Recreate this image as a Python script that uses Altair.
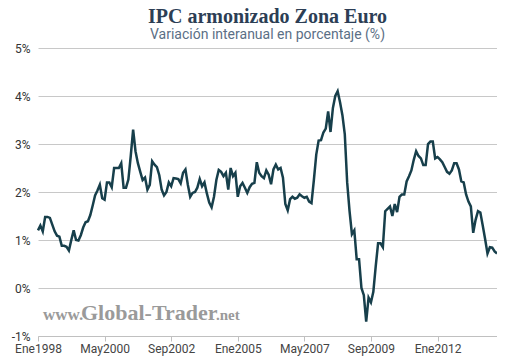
import altair as alt
import pandas as pd

title_text = "IPC armonizado Zona Euro"
subtitle_text = "Variación interanual en porcentaje (%)"
watermark_parts = ["www.", "Global-Trader", ".net"]

tick_months = [0, 28, 56, 84, 112, 140, 168]
tick_labels = ["Ene1998", "May2000", "Sep2002", "Ene2005", "May2007", "Sep2009", "Ene2012"]
y_ticks = [-1, 0, 1, 2, 3, 4, 5]

# monthly year-on-year rate (%), Jan 1998 .. Feb 2014
v1998 = [1.20, 1.30, 1.18, 1.48, 1.48, 1.46, 1.32, 1.18, 1.09, 1.07, 0.88, 0.88]
v1999 = [0.86, 0.78, 1.00, 1.20, 1.00, 0.99, 1.10, 1.26, 1.37, 1.39, 1.52, 1.72]
v2000 = [1.93, 2.03, 2.15, 1.87, 1.84, 2.20, 2.20, 2.10, 2.50, 2.50, 2.50, 2.60]
v2001 = [2.09, 2.09, 2.26, 2.75, 3.30, 2.85, 2.60, 2.42, 2.25, 2.30, 2.05, 2.15]
v2002 = [2.64, 2.57, 2.52, 2.35, 2.05, 1.93, 2.00, 2.20, 2.12, 2.29, 2.28, 2.27]
v2003 = [2.18, 2.40, 2.47, 2.15, 1.90, 1.98, 2.00, 2.09, 2.27, 2.12, 2.20, 1.97]
v2004 = [1.78, 1.68, 1.90, 2.25, 2.46, 2.42, 2.33, 2.40, 2.05, 2.50, 2.33, 2.40]
v2005 = [1.90, 2.12, 2.19, 2.09, 1.98, 2.10, 2.17, 2.19, 2.62, 2.40, 2.33, 2.29]
v2006 = [2.45, 2.36, 2.16, 2.47, 2.57, 2.47, 2.50, 2.30, 1.75, 1.62, 1.85, 1.90]
v2007 = [1.86, 1.88, 1.95, 1.91, 1.88, 1.90, 1.80, 1.77, 2.25, 2.78, 3.07, 3.08]
v2008 = [3.24, 3.32, 3.68, 3.25, 3.75, 4.00, 4.10, 3.87, 3.60, 3.20, 2.20, 1.60]
v2009 = [1.12, 1.20, 0.60, 0.60, 0.00, -0.15, -0.70, -0.20, -0.30, -0.08, 0.45, 0.93]
v2010 = [0.93, 0.85, 1.60, 1.65, 1.70, 1.50, 1.75, 1.58, 1.90, 1.95, 1.95, 2.22]
v2011 = [2.33, 2.45, 2.67, 2.85, 2.75, 2.70, 2.56, 2.56, 3.00, 3.05, 3.05, 2.70]
v2012 = [2.73, 2.68, 2.62, 2.52, 2.42, 2.38, 2.45, 2.60, 2.60, 2.47, 2.22, 2.20]
v2013 = [1.95, 1.80, 1.70, 1.15, 1.42, 1.60, 1.57, 1.30, 1.02, 0.72, 0.85, 0.84]
v2014 = [0.76, 0.72]

values = (v1998 + v1999 + v2000 + v2001 + v2002 + v2003 + v2004 + v2005 + v2006
          + v2007 + v2008 + v2009 + v2010 + v2011 + v2012 + v2013 + v2014)
df = pd.DataFrame({"m": list(range(len(values))), "v": values})

label_expr = "[" + ",".join("'%s'" % t for t in tick_labels) + "][round(datum.value / 28)]"

line = alt.Chart(df).mark_line(color="#173f4b", strokeWidth=2.5).encode(
    x=alt.X("m:Q",
            scale=alt.Scale(domain=[0, len(values) - 1], nice=False, zero=False),
            axis=alt.Axis(values=tick_months, labelExpr=label_expr, title=None, grid=False,
                          domainColor="#c0c0c0", tickColor="#c0c0c0", tickSize=5,
                          labelFlush=False, labelOverlap=False, labelFont="Roboto",
                          labelFontSize=12, labelColor="#444444", labelPadding=2)),
    y=alt.Y("v:Q",
            scale=alt.Scale(domain=[-1, 5], nice=False, zero=False),
            axis=alt.Axis(values=y_ticks, labelExpr="datum.value + '%'", title=None,
                          domain=False, ticks=False, gridColor="#c8c8c8",
                          labelFont="Roboto", labelFontSize=12, labelColor="#333333",
                          labelPadding=8)),
)

wm_df = pd.DataFrame({"t": watermark_parts, "size": [17, 22, 15], "px": [5, 43, 178]})
wm_style = dict(font="Liberation Serif", fontWeight="bold", color="#9a9a9a",
                align="left", baseline="alphabetic")
wm_layers = []
for i in range(len(watermark_parts)):
    row = wm_df.iloc[[i]]
    wm_layers.append(
        alt.Chart(row).mark_text(fontSize=int(row["size"].iloc[0]), **wm_style).encode(
            text="t:N", x=alt.value(int(row["px"].iloc[0])), y=alt.value(272)))

chart = alt.layer(*wm_layers, line).properties(
    width=459, height=288,
    autosize=alt.AutoSizeParams(type="none"),
    padding={"left": 30, "top": 40, "right": 0, "bottom": 20},
    title=alt.TitleParams(text=title_text, subtitle=subtitle_text,
                          font="Liberation Serif", fontSize=20, fontWeight="bold",
                          color="#2c3e55", subtitleFont="Roboto", subtitleFontSize=14,
                          subtitleColor="#5b6f86", anchor="middle", offset=0,
                          subtitlePadding=1),
).configure_view(strokeWidth=0)

chart.save("out.html", embed_options={"renderer": "svg", "actions": False})
